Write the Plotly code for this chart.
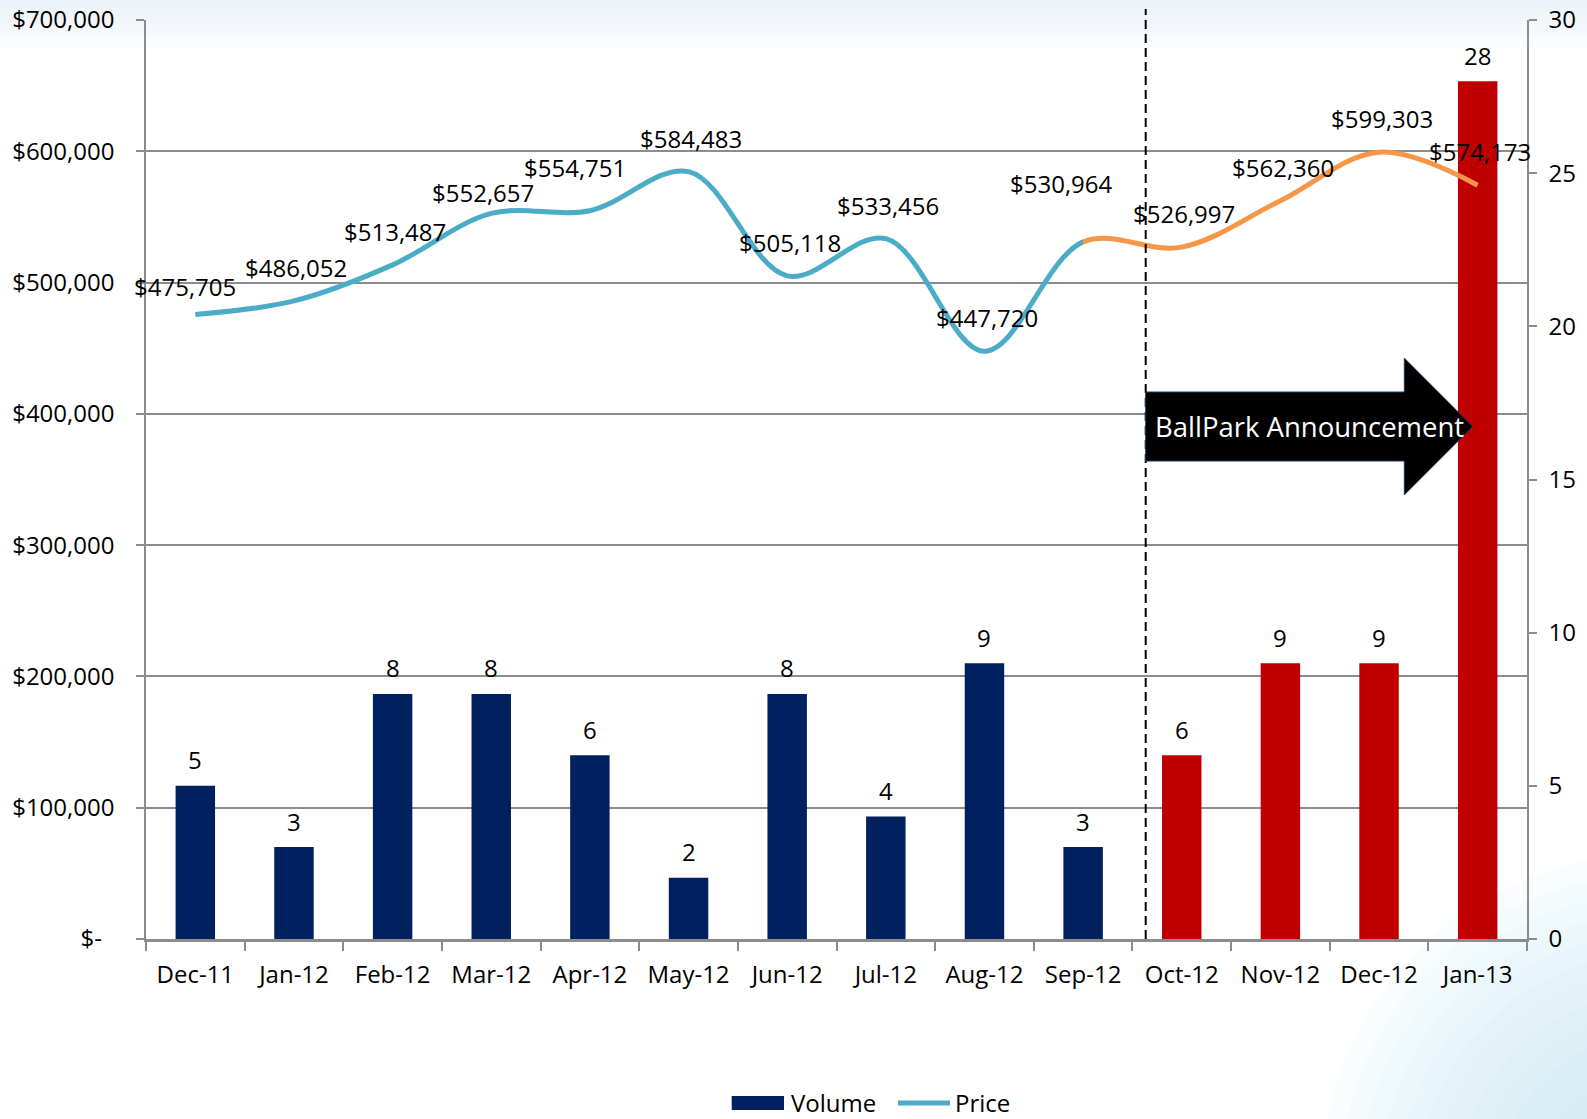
import plotly.graph_objects as go

# ---------------- data ----------------
months = ["Dec-11", "Jan-12", "Feb-12", "Mar-12", "Apr-12", "May-12", "Jun-12",
          "Jul-12", "Aug-12", "Sep-12", "Oct-12", "Nov-12", "Dec-12", "Jan-13"]
volume = [5, 3, 8, 8, 6, 2, 8, 4, 9, 3, 6, 9, 9, 28]
price = [475705, 486052, 513487, 552657, 554751, 584483, 505118,
         533456, 447720, 530964, 526997, 562360, 599303, 574173]
price_ticks = [0, 100000, 200000, 300000, 400000, 500000, 600000, 700000]
price_tick_labels = ["$-\u00a0\u00a0", "$100,000", "$200,000", "$300,000",
                     "$400,000", "$500,000", "$600,000", "$700,000"]
volume_ticks = [0, 5, 10, 15, 20, 25, 30]
first_red_bar = "Oct-12"      # bars after the announcement are red
orange_from = "Sep-12"        # price line turns orange from this point
announcement_text = "BallPark Announcement"

# ---------------- layout constants ----------------
W, H = 1587, 1119
L, R, T, B = 146, 60, 20, 180
PW, PH = W - L - R, H - T - B
FONT = "Open Sans"
FS = 24
NAVY, RED = "#002060", "#C00000"
BLUE, ORANGE = "#4BACC6", "#F79646"
GRID = "#8c8c8c"


def pxx(px):
    return (px - L) / PW


def pxy(py):
    return (H - B - py) / PH


n = len(months)
red_start = months.index(first_red_bar)
bar_colors = [NAVY if i < red_start else RED for i in range(n)]
split = months.index(orange_from)
f = (split + 0.5) / n  # paper fraction of the colour change point

fig = go.Figure()

fig.add_trace(go.Bar(x=months, y=volume, name="Volume", marker_color=bar_colors,
                     marker_line_width=0, width=0.4, xaxis="x", yaxis="y2",
                     showlegend=False))

# price line, blue part and orange part (each clipped to its own sub-plot)
fig.add_trace(go.Scatter(x=months, y=price, name="Price", mode="lines",
                         line=dict(color=BLUE, width=5, shape="spline", smoothing=1),
                         xaxis="x3", yaxis="y3", showlegend=False))
fig.add_trace(go.Scatter(x=months, y=price, name="Price (after)", mode="lines",
                         line=dict(color=ORANGE, width=5, shape="spline", smoothing=1),
                         xaxis="x4", yaxis="y4", showlegend=False))

tickfont = dict(family=FONT, size=FS, color="black")

fig.update_layout(
    template="none",
    width=W, height=H,
    margin=dict(l=L, r=R, t=T, b=B, pad=0),
    paper_bgcolor="white",
    plot_bgcolor="rgba(0,0,0,0)",
    font=dict(family=FONT, size=FS, color="black"),
    showlegend=False,
    xaxis=dict(type="category", categoryorder="array", categoryarray=months,
               range=[-0.5, n - 0.5], domain=[0, 1], anchor="y", automargin=False,
               tickson="boundaries", ticks="outside", ticklen=9, tickwidth=1.5,
               tickcolor=GRID, showline=True, linecolor=GRID, linewidth=3,
               showgrid=False, zeroline=False, tickfont=tickfont, ticklabelstandoff=12),
    yaxis=dict(range=[0, 700000], tickvals=price_ticks, ticktext=price_tick_labels,
               automargin=False,
               ticks="outside", ticklen=8, tickwidth=1.5, tickcolor=GRID,
               showline=True, linecolor=GRID, linewidth=1.5,
               showgrid=True, gridcolor=GRID, gridwidth=1.5, zeroline=False,
               tickfont=tickfont, ticklabelstandoff=17),
    yaxis2=dict(range=[0, 30], tickvals=volume_ticks, overlaying="y", side="right",
                automargin=False,
                ticks="outside", ticklen=8, tickwidth=1.5, tickcolor=GRID,
                showline=True, linecolor=GRID, linewidth=1.5, showgrid=False,
                zeroline=False, tickfont=tickfont, ticklabelstandoff=7),
    xaxis3=dict(type="category", categoryorder="array", categoryarray=months,
                domain=[0, f], range=[-0.5, split], anchor="y3", visible=False,
                automargin=False),
    yaxis3=dict(domain=[0, 1], range=[0, 700000], anchor="x3", visible=False,
                automargin=False),
    xaxis4=dict(type="category", categoryorder="array", categoryarray=months,
                domain=[f, 1], range=[split, n - 0.5], anchor="y4", visible=False,
                automargin=False),
    yaxis4=dict(domain=[0, 1], range=[0, 700000], anchor="x4", visible=False,
                automargin=False),
)

shapes = []
# soft background tint at the top
for i in range(8):
    shapes.append(dict(type="rect", xref="paper", yref="paper", layer="below",
                       x0=pxx(0), x1=pxx(W), y0=pxy(0), y1=pxy(48 * (1 - i / 8)),
                       fillcolor="#e4f0f7", opacity=0.12, line_width=0))
# soft tint in bottom-right corner
cx, cy = 1650, 1185
for k in range(14):
    r = 330 - k * 20
    shapes.append(dict(type="circle", xref="paper", yref="paper", layer="below",
                       x0=pxx(cx - r), x1=pxx(cx + r), y0=pxy(cy + r), y1=pxy(cy - r),
                       fillcolor="#cde6f1", opacity=0.09, line_width=0))

# dashed announcement line
xd = pxx(1145.7)
shapes.append(dict(type="line", xref="paper", yref="paper", layer="above",
                   x0=xd, x1=xd, y0=0, y1=pxy(9),
                   line=dict(color="black", width=2, dash="9px,5px")))

# block arrow
bl, hs, tip = pxx(1145.7), pxx(1404.3), pxx(1472.7)
acy = 426.5
bt, bb = pxy(acy - 34.5), pxy(acy + 34.5)
ht, hb, ty = pxy(acy - 68.4), pxy(acy + 68.4), pxy(acy)
path = (f"M {bl},{bt} L {hs},{bt} L {hs},{ht} L {tip},{ty} "
        f"L {hs},{hb} L {hs},{bb} L {bl},{bb} Z")
shapes.append(dict(type="path", path=path, xref="paper", yref="paper", layer="above",
                   fillcolor="black", line=dict(color="#1f3864", width=1)))

# custom legend swatches
LEG_Y = 1103
shapes.append(dict(type="rect", xref="paper", yref="paper",
                   x0=pxx(731.7), x1=pxx(784), y0=pxy(LEG_Y + 7), y1=pxy(LEG_Y - 7),
                   fillcolor=NAVY, line_width=0))
shapes.append(dict(type="line", xref="paper", yref="paper",
                   x0=pxx(898), x1=pxx(950), y0=pxy(LEG_Y), y1=pxy(LEG_Y),
                   line=dict(color=BLUE, width=5)))
fig.update_layout(shapes=shapes)

ann = []
# price labels
default_shift = (2.5, 33.5)
nudges = {"Dec-11": (-10, 28), "Mar-12": (-8.5, 21), "Apr-12": (-15, 43),
          "Sep-12": (-22, 58)}
for m, p in zip(months, price):
    dx, dy = nudges.get(m, default_shift)
    ann.append(dict(x=m, y=p, xref="x", yref="y", text=f"${p:,}", showarrow=False,
                    xanchor="center", yanchor="middle",
                    xshift=dx, yshift=dy, font=dict(family=FONT, size=FS, color="black")))
# volume labels
for m, v in zip(months, volume):
    ann.append(dict(x=m, y=v, xref="x", yref="y2", text=str(v), showarrow=False,
                    xanchor="center", yanchor="middle",
                    yshift=26, font=dict(family=FONT, size=FS, color="black")))
# arrow text
ann.append(dict(x=pxx(1309.7), y=pxy(426), xref="paper", yref="paper",
                xanchor="center", yanchor="middle",
                text=announcement_text, showarrow=False,
                font=dict(family=FONT, size=27.5, color="white")))
# legend texts
ann.append(dict(x=pxx(789), y=pxy(LEG_Y), xref="paper", yref="paper", text="Volume",
                xanchor="left", yanchor="middle", showarrow=False,
                font=dict(family=FONT, size=FS, color="black")))
ann.append(dict(x=pxx(953), y=pxy(LEG_Y), xref="paper", yref="paper", text="Price",
                xanchor="left", yanchor="middle", showarrow=False,
                font=dict(family=FONT, size=FS, color="black")))
fig.update_layout(annotations=ann)

fig.write_html("out.html",
               config={"displayModeBar": False},
               post_script="document.body.style.margin='0';"
                           "document.body.style.overflow='hidden';")
